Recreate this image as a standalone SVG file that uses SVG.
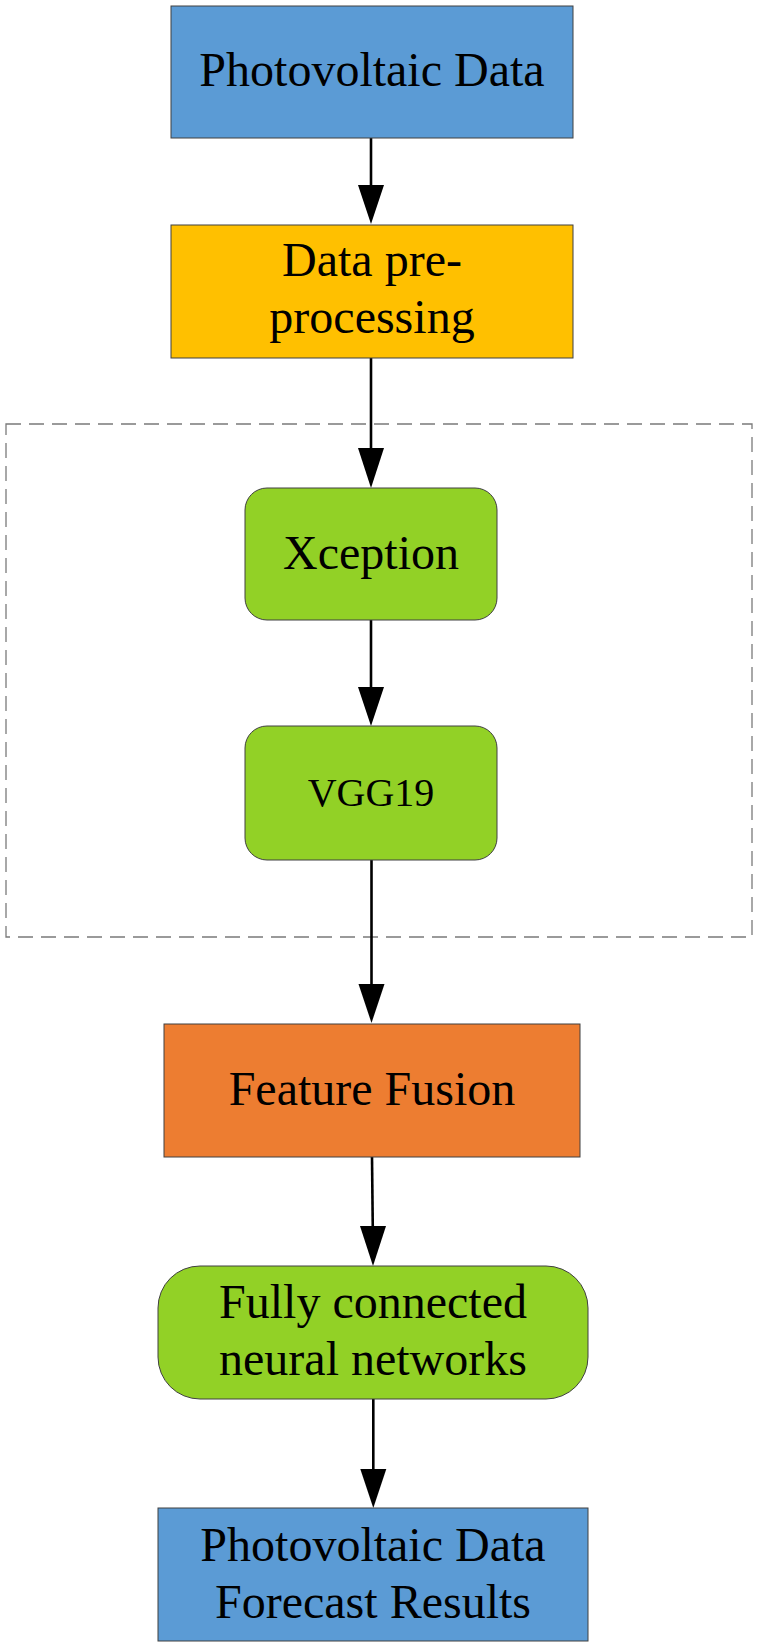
<svg xmlns="http://www.w3.org/2000/svg" width="757" height="1646" viewBox="0 0 757 1646">
<style>
.box{stroke:#404040;stroke-width:1}
.blue{fill:#5B9BD5}.yellow{fill:#FFC000}.green{fill:#92D126}.orange{fill:#ED7D31}
text{font-family:"Liberation Serif","Times New Roman",serif;font-size:48px;fill:#000;text-anchor:middle}
.edge{stroke:#000;stroke-width:2.6;fill:none}
.ah{fill:#000}
</style>
<rect x="0" y="0" width="757" height="1646" fill="#fff"/>
<g id="group-dashed">
<rect x="6" y="424" width="746" height="513" fill="none" stroke="#7a7a7a" stroke-width="1.3" stroke-dasharray="15 8"/>
</g>
<g id="connectors">
<line class="edge" x1="371" y1="138" x2="371" y2="190"/>
<polygon class="ah" points="358,185 384,185 371,224"/>
<line class="edge" x1="371" y1="358" x2="371" y2="452"/>
<polygon class="ah" points="358,448 384,448 371,488"/>
<line class="edge" x1="371" y1="620" x2="371" y2="690"/>
<polygon class="ah" points="358,687 384,687 371,726"/>
<line class="edge" x1="371.5" y1="860" x2="371.5" y2="988"/>
<polygon class="ah" points="358.5,984 384.5,984 371.5,1023"/>
<line class="edge" x1="372" y1="1157" x2="372.8" y2="1230"/>
<polygon class="ah" points="360,1226 386,1226 373,1266"/>
<line class="edge" x1="373.3" y1="1399" x2="373.3" y2="1472"/>
<polygon class="ah" points="360.3,1469 386.3,1469 373.3,1508"/>
</g>
<g id="node-pv-data">
<rect class="box blue" x="171" y="6" width="402" height="132"/>
<text x="372" y="86">Photovoltaic Data</text>
</g>
<g id="node-preprocessing">
<rect class="box yellow" x="171" y="225" width="402" height="133"/>
<text x="372" y="276">Data pre-</text>
<text x="372" y="333">processing</text>
</g>
<g id="node-xception">
<rect class="box green" x="245" y="488" width="252" height="132" rx="22" ry="22"/>
<text x="371" y="569">Xception</text>
</g>
<g id="node-vgg19">
<rect class="box green" x="245" y="726" width="252" height="134" rx="22" ry="22"/>
<text x="371" y="806" style="font-size:40px">VGG19</text>
</g>
<g id="node-feature-fusion">
<rect class="box orange" x="164" y="1024" width="416" height="133"/>
<text x="372" y="1105">Feature Fusion</text>
</g>
<g id="node-fc">
<rect class="box green" x="158" y="1266" width="430" height="133" rx="42" ry="42"/>
<text x="373" y="1318">Fully connected</text>
<text x="373" y="1375">neural networks</text>
</g>
<g id="node-results">
<rect class="box blue" x="158" y="1508" width="430" height="133"/>
<text x="373" y="1561">Photovoltaic Data</text>
<text x="373" y="1618">Forecast Results</text>
</g>
</svg>
